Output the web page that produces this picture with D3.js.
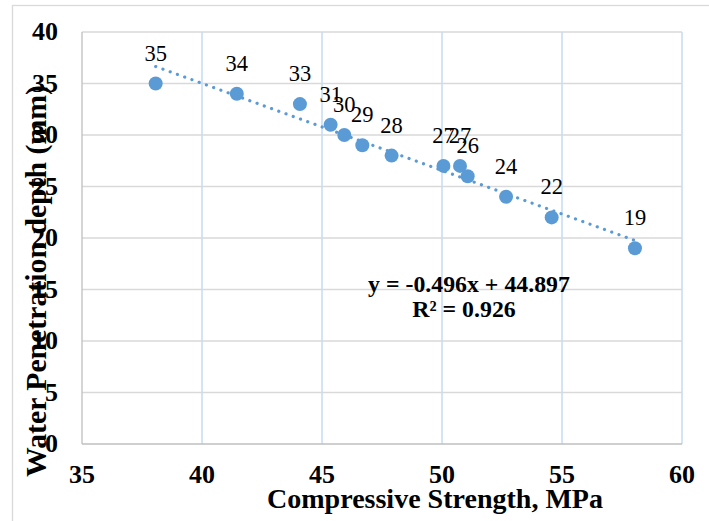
<!DOCTYPE html>
<html><head><meta charset="utf-8">
<script src="https://cdn.jsdelivr.net/npm/d3@7"></script>
<style>body{margin:0;background:#fff}svg{display:block}</style>
</head><body><svg id="c" width="709" height="521" font-family="'Liberation Serif', 'Times New Roman', Times, serif"></svg>
<script>
const strength = [38.07, 41.45, 44.08, 45.36, 45.93, 46.68, 47.9, 50.06, 50.75, 51.07, 52.67, 54.57, 58.04];
const depth = [35, 34, 33, 31, 30, 29, 28, 27, 27, 26, 24, 22, 19];
const pointLabels = ["35","34","33","31","30","29","28","27","27","26","24","22","19"];
const xTicks = [35, 40, 45, 50, 55, 60];
const yTicks = [0, 5, 10, 15, 20, 25, 30, 35, 40];
const equationText = ["y = -0.496x + 44.897", "R\u00b2 = 0.926"];

const FONT = "'Liberation Serif', 'Times New Roman', Times, serif";
const svg = d3.select("#c");
const L = 82, R = 682, T = 32, B = 444;
const x = d3.scaleLinear().domain([35, 60]).range([L, R]);
const y = d3.scaleLinear().domain([0, 40]).range([B, T]);

svg.append("rect").attr("x", 12.5).attr("y", 5.5).attr("width", 720).attr("height", 540)
  .attr("fill", "#fff").attr("stroke", "#d9d9d9").attr("stroke-width", 1.3);

svg.append("g").selectAll("line").data(yTicks.filter(d => d > 0)).join("line")
  .attr("x1", L).attr("x2", R).attr("y1", d => y(d)).attr("y2", d => y(d))
  .attr("stroke", "#d9d9d9").attr("stroke-width", 1.3);
svg.append("g").selectAll("line").data(xTicks.filter(d => d > 35)).join("line")
  .attr("x1", d => x(d)).attr("x2", d => x(d)).attr("y1", T).attr("y2", B)
  .attr("stroke", "#c6dbf5").attr("stroke-width", 1.5);
svg.append("line").attr("x1", L).attr("x2", L).attr("y1", T).attr("y2", B).attr("stroke", "#bfbfbf").attr("stroke-width", 1.3);
svg.append("line").attr("x1", L).attr("x2", R).attr("y1", B).attr("y2", B).attr("stroke", "#bfbfbf").attr("stroke-width", 1.3);

function sizeFor(sample, base, weight, target) {
  const t = svg.append("text").attr("font-family", FONT).attr("font-size", base)
    .attr("font-weight", weight).text(sample);
  const w = t.node().getComputedTextLength();
  t.remove();
  return w > 0 ? base * target / w : base;
}
function fit(sel, target) {
  sel.each(function () {
    const w = this.getComputedTextLength();
    const fs = parseFloat(this.getAttribute("font-size"));
    if (w > 0) this.setAttribute("font-size", (fs * target / w).toFixed(2));
  });
}

const tickFs = sizeFor("40", 24, "bold", 26);
svg.append("g").selectAll("text").data(yTicks).join("text")
  .attr("font-family", FONT)
  .attr("x", 58).attr("y", d => y(d) + 8).attr("text-anchor", "end")
  .attr("font-size", tickFs).attr("font-weight", "bold").text(d => d);
svg.append("g").selectAll("text").data(xTicks).join("text")
  .attr("font-family", FONT)
  .attr("x", d => x(d)).attr("y", 483).attr("text-anchor", "middle")
  .attr("font-size", tickFs).attr("font-weight", "bold").text(d => d);

const mx = d3.mean(strength), my = d3.mean(depth);
let sxy = 0, sxx = 0;
strength.forEach((v, i) => { sxy += (v - mx) * (depth[i] - my); sxx += (v - mx) * (v - mx); });
const slope = sxy / sxx, icpt = my - slope * mx;
const x0 = d3.min(strength), x1 = d3.max(strength);
svg.append("line").attr("x1", x(x0)).attr("y1", y(slope * x0 + icpt))
  .attr("x2", x(x1)).attr("y2", y(slope * x1 + icpt))
  .attr("stroke", "#5b9bd5").attr("stroke-width", 3.2).attr("stroke-linecap", "round")
  .attr("stroke-dasharray", "0.1 7.6");

const labFs = sizeFor("35", 21, "normal", 22.5);
const pts = strength.map((v, i) => ({ x: v, y: depth[i], l: pointLabels[i] }));
svg.append("g").selectAll("circle").data(pts).join("circle")
  .attr("cx", d => x(d.x)).attr("cy", d => y(d.y)).attr("r", 7).attr("fill", "#5b9bd5");
svg.append("g").selectAll("text").data(pts).join("text")
  .attr("font-family", FONT)
  .attr("x", d => x(d.x)).attr("y", d => y(d.y) - 23).attr("text-anchor", "middle")
  .attr("font-size", labFs).attr("fill", "#000").text(d => d.l);

const eqFs = sizeFor(equationText[0], 20, "bold", 202);
svg.append("g").selectAll("text").data(equationText).join("text")
  .attr("font-family", FONT)
  .attr("x", (d, i) => i ? 464 : 469).attr("y", (d, i) => i ? 317 : 291.5).attr("text-anchor", "middle")
  .attr("font-size", eqFs).attr("font-weight", "bold").text(d => d);

const xtl = svg.append("text").attr("font-family", FONT).attr("x", 435).attr("y", 508).attr("text-anchor", "middle")
  .attr("font-size", 24).attr("font-weight", "bold").text("Compressive Strength, MPa");
fit(xtl, 336);
const ytl = svg.append("text").attr("font-family", FONT).attr("transform", "translate(46,281) rotate(-90)").attr("text-anchor", "middle")
  .attr("font-size", 26).attr("font-weight", "bold").text("Water Penetration depth (mm)");
fit(ytl, 392);
</script></body></html>
